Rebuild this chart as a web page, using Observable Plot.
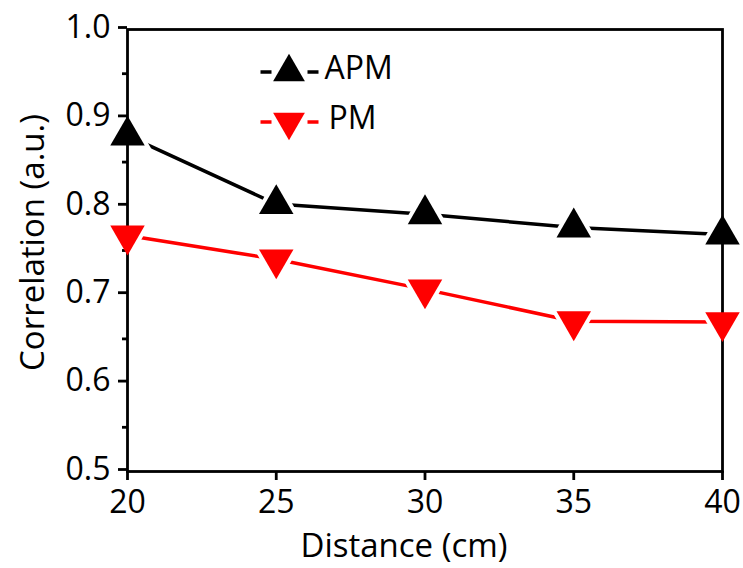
<!DOCTYPE html>
<html>
<head>
<meta charset="utf-8">
<script src="https://cdn.jsdelivr.net/npm/d3@7"></script>
<script src="https://cdn.jsdelivr.net/npm/@observablehq/plot@0.6"></script>
<style>
  html, body { margin: 0; padding: 0; background: #fff; }
  #chart svg { display: block; }
</style>
</head>
<body>
<div id="chart"></div>
<script>
// ---- data ----
const distance = [20, 25, 30, 35, 40];
const apm = [0.880, 0.8025, 0.791, 0.776, 0.768];
const pm = [0.767, 0.740, 0.706, 0.670, 0.669];
const seriesNames = ["APM", "PM"];
const seriesColors = ["#000000", "#ff0000"];
const xTicks = [20, 25, 30, 35, 40];
const yTicks = [0.5, 0.6, 0.7, 0.8, 0.9, 1.0];
const yMinorTicks = [0.55, 0.65, 0.75, 0.85, 0.95];
const xLabel = "Distance (cm)";
const yLabel = "Correlation (a.u.)";

// ---- symbols ----
const triDown = {
  draw(ctx, size) {
    const y = Math.sqrt(size / (3 * Math.sqrt(3)));
    const x = Math.sqrt(3) * y;
    ctx.moveTo(0, 2 * y);
    ctx.lineTo(x, -y);
    ctx.lineTo(-x, -y);
    ctx.closePath();
  }
};
const dashes = {
  draw(ctx) {
    ctx.moveTo(-29, 0); ctx.lineTo(-18, 0);
    ctx.moveTo(18, 0); ctx.lineTo(29, 0);
  }
};
const seriesSymbols = ["triangle", triDown];
const seriesValues = [apm, pm];

const tables = seriesValues.map(vals => distance.map((d, i) => ({distance: d, value: vals[i]})));

const R = 12.8, HALO = 18;
const marks = [];
// lines
tables.forEach((t, i) => marks.push(
  Plot.line(t, {x: "distance", y: "value", stroke: seriesColors[i], strokeWidth: 3.5})
));
// white halos (gaps between line and markers)
tables.forEach((t, i) => marks.push(
  Plot.dot(t, {x: "distance", y: "value", r: HALO, symbol: seriesSymbols[i], fill: "#fff", stroke: "none"})
));
// frame & axes
marks.push(
  Plot.frame({stroke: "#000", strokeWidth: 2.8}),
  Plot.axisY({ticks: yTicks, tickSize: 9, tickPadding: 8, tickFormat: d3.format(".1f"),
              strokeWidth: 2.8, fontSize: 32, dy: -2, label: null}),
  Plot.axisY({ticks: yMinorTicks, tickSize: 5, tickFormat: () => "", strokeWidth: 2.8, label: null}),
  Plot.axisX({ticks: xTicks, tickSize: 9, tickPadding: 10, tickFormat: d3.format("d"),
              strokeWidth: 2.8, fontSize: 32, label: null})
);
// markers
tables.forEach((t, i) => marks.push(
  Plot.dot(t, {x: "distance", y: "value", r: R, symbol: seriesSymbols[i], fill: seriesColors[i], stroke: "none"})
));
// legend
const legendDy = [42.5, 92.5];
const legendTextDx = [197, 201];
seriesNames.forEach((name, i) => marks.push(
  Plot.dot([name], {x: null, y: null, frameAnchor: "top-left", dx: 162, dy: legendDy[i],
                    symbol: dashes, stroke: seriesColors[i], strokeWidth: 3.5, fill: "none", r: 1}),
  Plot.dot([name], {x: null, y: null, frameAnchor: "top-left", dx: 161.5, dy: legendDy[i],
                    symbol: seriesSymbols[i], r: 11.8, fill: seriesColors[i], stroke: "none"}),
  Plot.text([name], {x: null, y: null, frameAnchor: "top-left", dx: legendTextDx[i], dy: legendDy[i] - 3,
                     text: d => d, textAnchor: "start", lineAnchor: "middle", fontSize: 32, fill: "#000"})
));
// axis titles
marks.push(
  Plot.text([xLabel], {x: null, y: null, frameAnchor: "bottom", dx: -21, dy: 85, text: d => d,
                       textAnchor: "middle", lineAnchor: "bottom", fontSize: 33, fill: "#000"}),
  Plot.text([yLabel], {x: null, y: null, frameAnchor: "left", dx: -84, dy: -8, rotate: -90, text: d => d,
                       textAnchor: "middle", lineAnchor: "bottom", fontSize: 33, fill: "#000"})
);

const chart = Plot.plot({
  width: 743,
  height: 568,
  marginTop: 29,
  marginRight: 21,
  marginBottom: 97,
  marginLeft: 127,
  style: {fontFamily: "'Open Sans', sans-serif", fontSize: "32px", color: "#000", background: "#fff", overflow: "visible"},
  x: {domain: [20, 40], label: null},
  y: {domain: [0.5, 1.0], label: null},
  marks
});
document.getElementById("chart").appendChild(chart);
</script>
</body>
</html>
